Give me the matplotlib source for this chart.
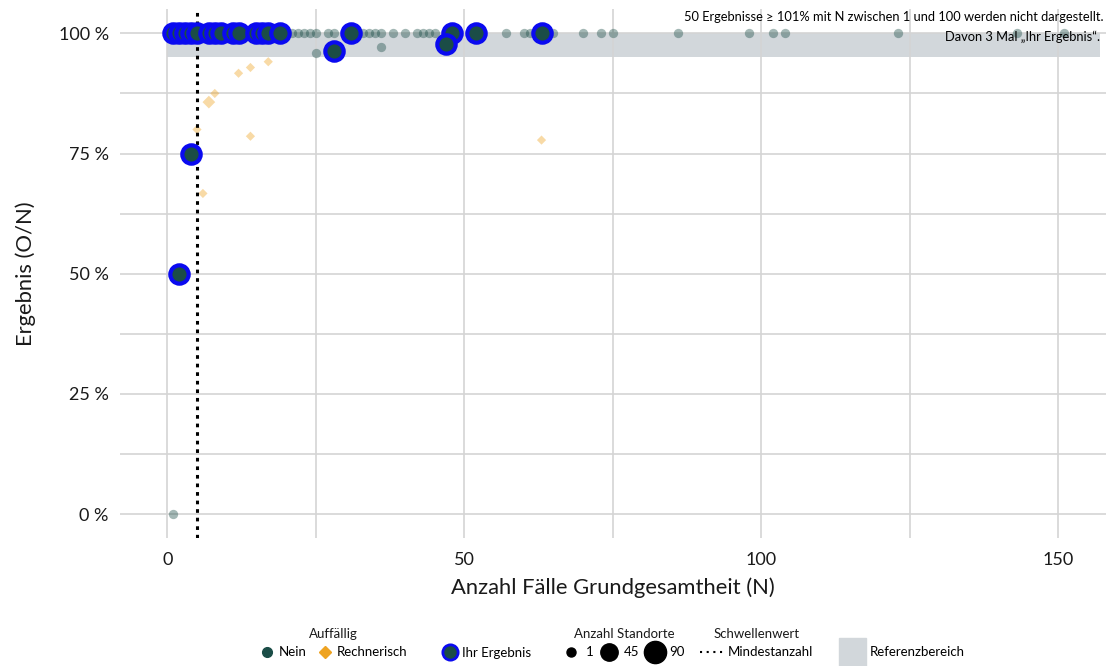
import numpy as np
import matplotlib
matplotlib.use("Agg")
import matplotlib.pyplot as plt
from matplotlib.lines import Line2D
from matplotlib.patches import Patch

plt.rcParams["font.family"] = ["Lato", "DejaVu Sans"]

# Auffällig: Nein (not highlighted)
nein_n = [1, 2, 3, 4, 6, 8, 10, 13, 20, 21, 22, 23, 24, 25, 27, 28, 33, 34, 35, 36,
          38, 40, 42, 43, 44, 45, 57, 60, 61, 65, 70, 73, 75, 86, 98, 102, 104, 123,
          143, 151, 25, 36, 1]
nein_val = [100] * 40 + [96.0, 97.2, 0.0]

# Auffällig: Rechnerisch
rech_n = [5, 6, 7, 8, 12, 14, 14, 17, 63]
rech_val = [80.0, 66.7, 85.7, 87.5, 91.7, 92.9, 78.6, 94.1, 77.8]
rech_standorte = [1, 1, 3, 1, 1, 1, 1, 1, 1]

# Ihr Ergebnis
ihr_n = [1, 2, 3, 4, 5, 7, 8, 9, 11, 12, 15, 16, 17, 19, 31, 48, 52, 63,
         28, 47, 4, 2]
ihr_val = [100] * 18 + [96.4, 97.7, 75.0, 50.0]

mindestanzahl = 5
ref_lower, ref_upper = 95, 100
ref_x = (0, 157)

x_ticks = [0, 50, 100, 150]
y_ticks = [0, 25, 50, 75, 100]
y_ticklabels = ["0 %", "25 %", "50 %", "75 %", "100 %"]

c_nein = "#1b4d47"
c_rech = "#eea321"
c_ihr_edge = "#0a0af0"
c_ref = "#d2d7db"

fig = plt.figure(figsize=(11.15, 6.66), dpi=100)
ax = fig.add_axes([0.1074, 0.192, 0.8844, 0.794])

ax.fill_between(ref_x, ref_lower, ref_upper, color=c_ref, lw=0, zorder=0.3)

ax.set_axisbelow(True)
ax.set_xticks(x_ticks)
ax.set_xticks([25, 75, 125], minor=True)
ax.set_yticks(y_ticks)
ax.set_yticks([12.5, 37.5, 62.5, 87.5], minor=True)
ax.grid(True, which="both", color="#d4d4d4", lw=1.2)

ax.scatter(nein_n, nein_val, s=45, color=c_nein, alpha=0.4, lw=0, zorder=2)
ax.scatter(rech_n, rech_val, s=[22 + 10 * (k - 1) for k in rech_standorte],
           marker="D", color=c_rech, alpha=0.4, lw=0, zorder=2)
ax.axvline(mindestanzahl, color="black", ls=(0, (1.2, 1.6)), lw=2.2, zorder=3)
ax.scatter(ihr_n, ihr_val, s=175, color=c_nein, edgecolor=c_ihr_edge, lw=3.0, zorder=4)

ax.set_xlim(-8, 158)
ax.set_ylim(-5, 105)
ax.set_yticklabels(y_ticklabels)
ax.tick_params(which="both", length=0, labelsize=13, colors="#1a1a1a")
ax.tick_params(axis="y", pad=8)
ax.tick_params(axis="x", pad=10)
for s in ax.spines.values():
    s.set_visible(False)

ax.set_xlabel("Anzahl Fälle Grundgesamtheit (N)", fontsize=15.8, labelpad=7, color="#1a1a1a")
ax.set_ylabel("Ergebnis (O/N)", fontsize=15.8, labelpad=16, color="#1a1a1a")

ax.text(0.998, 0.985, "50 Ergebnisse ≥ 101% mit N zwischen 1 und 100 werden nicht dargestellt.",
        transform=ax.transAxes, ha="right", va="center", fontsize=9.25)
ax.text(0.994, 0.948, "Davon 3 Mal „Ihr Ergebnis“.",
        transform=ax.transAxes, ha="right", va="center", fontsize=9.25)

# legends
lkw = dict(frameon=False, fontsize=9.5, title_fontsize=9.5, handletextpad=0.3,
           columnspacing=0.8, borderaxespad=0, handlelength=1.2)

h_auff = [Line2D([], [], marker="o", ls="", color=c_nein, markersize=7),
          Line2D([], [], marker="D", ls="", color=c_rech, markersize=6)]
leg1 = fig.legend(h_auff, ["Nein", "Rechnerisch"], title="Auffällig", ncol=2,
                  loc="center", bbox_to_anchor=(333 / 1115, 1 - 643 / 666), **lkw)

h_ihr = [Line2D([], [], marker="o", ls="", color=c_nein, markeredgecolor=c_ihr_edge,
                markeredgewidth=2, markersize=11)]
leg2 = fig.legend(h_ihr, ["Ihr Ergebnis"], loc="center",
                  bbox_to_anchor=(487 / 1115, 1 - 653 / 666), **lkw)

h_size = [Line2D([], [], marker="o", ls="", color="black", markersize=ms) for ms in (6.5, 12.5, 16)]
leg3 = fig.legend(h_size, ["1", "45", "90"], title="Anzahl Standorte", ncol=3,
                  loc="center", bbox_to_anchor=(624 / 1115, 1 - 643 / 666),
                  **dict(lkw, handletextpad=0.5, columnspacing=0.6))

h_sw = [Line2D([], [], color="black", ls=(0, (1, 2.2)), lw=1.5)]
leg4 = fig.legend(h_sw, ["Mindestanzahl"], title="Schwellenwert",
                  loc="center", bbox_to_anchor=(757 / 1115, 1 - 643 / 666),
                  **dict(lkw, handlelength=1.8))

h_ref = [Patch(color=c_ref)]
leg5 = fig.legend(h_ref, ["Referenzbereich"], loc="center",
                  bbox_to_anchor=(902 / 1115, 1 - 652 / 666),
                  **dict(lkw, handlelength=2.0, handleheight=2.8))

for lg in (leg1, leg3, leg4):
    lg.get_title().set_color("#1a1a1a")

fig.savefig("out.png", dpi=100)
